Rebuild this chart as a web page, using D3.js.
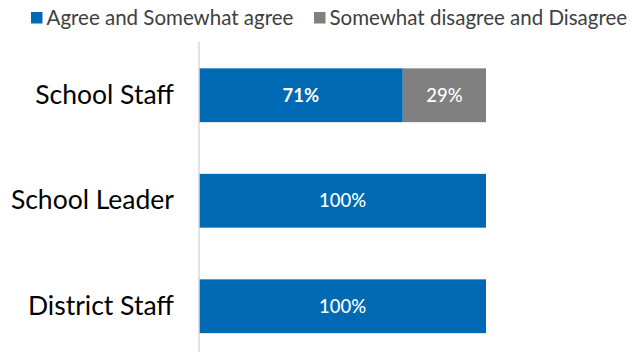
<!DOCTYPE html>
<html>
<head>
<meta charset="utf-8">
<script src="https://cdn.jsdelivr.net/npm/d3@7"></script>
<style>
  html, body { margin: 0; padding: 0; background: #fff; }
  svg { display: block; font-family: Lato, "Open Sans", sans-serif; }
</style>
</head>
<body>
<svg id="chart" width="632" height="352"></svg>
<script>
// Survey responses by role (percent)
const categories = ["School Staff", "School Leader", "District Staff"];
const agree = [71, 100, 100];
const disagree = [29, 0, 0];
const seriesNames = ["Agree and Somewhat agree", "Somewhat disagree and Disagree"];
const seriesColors = ["#0069B4", "#808080"];

const svg = d3.select("#chart");
const W = 632, H = 352;
const x0 = 199;

const x = d3.scaleLinear().domain([0, 100]).range([x0, 486]);
const y = d3.scaleBand().domain(categories).range([42.5, 359]).paddingInner(0.49).paddingOuter(0.245);

const rows = categories.map((c, i) => ({ cat: c, vals: [agree[i], disagree[i]] }));

// Stacked segments with centred value labels
rows.forEach((r, i) => {
  let start = 0;
  r.vals.forEach((v, s) => {
    if (v <= 0) return;
    svg.append("rect")
      .attr("x", x(start))
      .attr("y", y(r.cat))
      .attr("width", x(start + v) - x(start))
      .attr("height", y.bandwidth())
      .attr("fill", seriesColors[s]);
    svg.append("text")
      .attr("x", (x(start) + x(start + v)) / 2)
      .attr("y", y(r.cat) + y.bandwidth() / 2)
      .attr("dy", "0.36em")
      .attr("text-anchor", "middle")
      .attr("fill", "#fff")
      .attr("font-size", 18.5)
      .attr("font-weight", (i === 0 && s === 0) ? 700 : 500)
      .text(v + "%");
    start += v;
  });
});

// Vertical category axis
const yAxis = d3.axisLeft(y).tickSize(0).tickPadding(25);
const gy = svg.append("g").attr("transform", `translate(${x0},0)`).call(yAxis);
gy.select(".domain").attr("stroke", "#d9d9d9").attr("stroke-width", 1.5)
  .attr("d", `M0,42V${H}`);
gy.selectAll("text").attr("font-size", 26.5).attr("fill", "#000")
  .attr("font-family", "Lato, sans-serif");

// Legend
const legendItems = [
  { name: seriesNames[0], color: seriesColors[0], x: 31 },
  { name: seriesNames[1], color: seriesColors[1], x: 314 }
];
const lg = svg.append("g");
legendItems.forEach(d => {
  lg.append("rect").attr("x", d.x).attr("y", 12).attr("width", 11.5).attr("height", 11.5).attr("fill", d.color);
  lg.append("text").attr("x", d.x + 15.5).attr("y", 18).attr("dy", "0.36em")
    .attr("font-size", 20.5).attr("fill", "#404040").text(d.name);
});
</script>
</body>
</html>
